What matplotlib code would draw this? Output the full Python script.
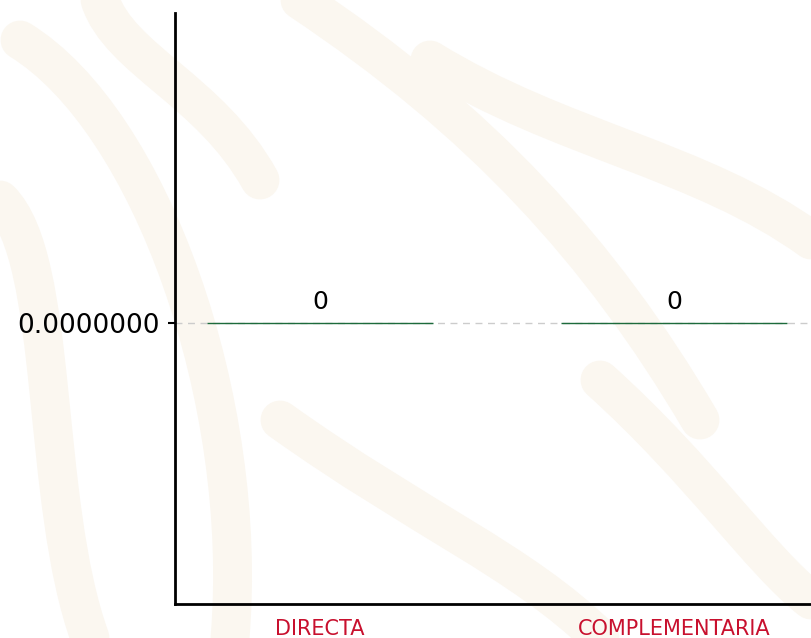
import matplotlib.pyplot as plt
import numpy as np
from matplotlib.patches import PathPatch
from matplotlib.path import Path

categories = ["DIRECTA", "COMPLEMENTARIA"]
values = [0, 0]
value_labels = ["0", "0"]

fig = plt.figure(figsize=(8.11, 6.38), dpi=100)

# faint watermark-like background strokes
bg = fig.add_axes([0, 0, 1, 1], zorder=-10)
bg.set_xlim(0, 811)
bg.set_ylim(638, 0)
bg.axis("off")
wm = "#fbf7f0"
strokes = [
    [(20, 40), (150, 120), (250, 400), (230, 638)],
    [(0, 200), (60, 260), (40, 500), (90, 638)],
    [(300, 0), (480, 120), (600, 250), (700, 420)],
    [(430, 60), (560, 140), (700, 160), (811, 240)],
    [(280, 420), (420, 520), (520, 560), (600, 638)],
    [(600, 380), (700, 470), (760, 560), (811, 600)],
    [(100, 0), (120, 60), (210, 90), (260, 180)],
]
for pts in strokes:
    path = Path(pts, [Path.MOVETO, Path.CURVE4, Path.CURVE4, Path.CURVE4])
    bg.add_patch(PathPatch(path, fill=False, edgecolor=wm, lw=28,
                           capstyle="round"))

ax = fig.add_axes([175 / 811, 34 / 638, 636 / 811, 591 / 638])
ax.patch.set_alpha(0)
x = np.arange(len(categories))
bars = ax.bar(x, values, width=0.64, color="#1d6b3c",
              edgecolor="#1d6b3c", linewidth=1, zorder=3)
for rect, lab in zip(bars, value_labels):
    ax.annotate(lab, (rect.get_x() + rect.get_width() / 2, rect.get_height()),
                xytext=(0, 7), textcoords="offset points",
                ha="center", va="bottom", fontsize=18)

ax.set_xlim(-0.41, 1.387)
ax.set_ylim(-0.95, 1.05)
ax.set_yticks([0])
ax.set_yticklabels(["0.0000000"], fontsize=19)
ax.yaxis.grid(True, linestyle=(0, (5, 4)), color="#cccccc", lw=1)
ax.set_axisbelow(True)
ax.set_xticks(x)
ax.set_xticklabels(categories, fontsize=15, color="#c8102e")
ax.tick_params(axis="x", length=0, pad=11)
ax.tick_params(axis="y", length=5, width=1.5, pad=6)
for side in ["top", "right"]:
    ax.spines[side].set_visible(False)
ax.spines["left"].set_linewidth(2)
ax.spines["bottom"].set_linewidth(2)

fig.savefig("out.png", dpi=100)
